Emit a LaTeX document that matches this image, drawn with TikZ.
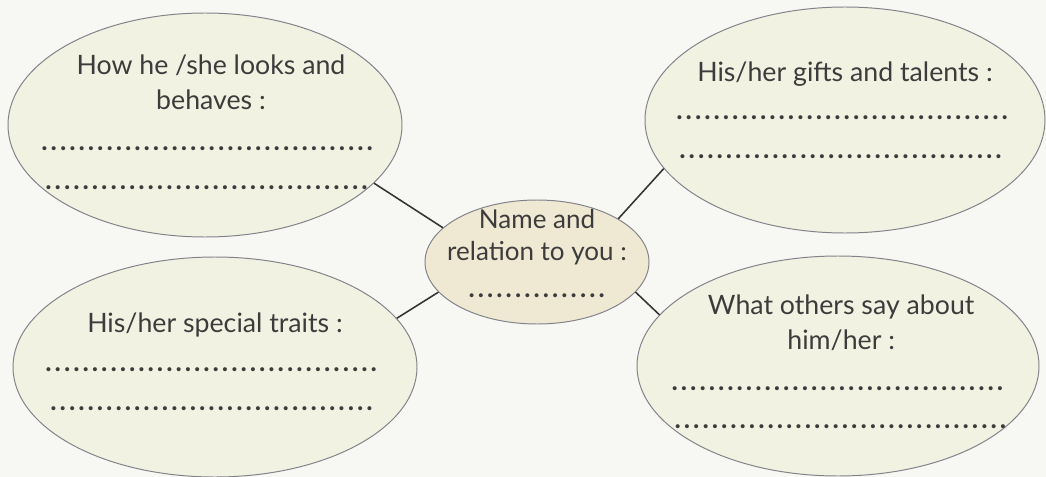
\documentclass[tikz,border=0pt]{standalone}
\usepackage{fontspec}
\setmainfont{Lato}
\usetikzlibrary{shapes.geometric,positioning}
\definecolor{bgpaper}{RGB}{247,247,243}
\definecolor{bubblefill}{RGB}{242,242,227}
\definecolor{namefill}{RGB}{239,233,212}
\definecolor{rimgray}{RGB}{130,130,138}
\definecolor{inkgray}{RGB}{60,60,60}
\newcommand{\dotrow}[1]{\makebox[#1]{\leaders\hbox to 6.6pt{\hss\textbf{.}\hss}\hfill}}

\begin{document}
\begin{tikzpicture}[
    bubble/.style={draw=rimgray, line width=0.7pt, ellipse, fill=bubblefill, inner sep=0pt},
    bubbletext/.style={inner sep=0pt, text=inkgray, align=center, font=\fontsize{19}{25}\selectfont},
    spoke/.style={draw=black!80, line width=1.1pt}
  ]
    \useasboundingbox[fill=bgpaper] (0,0) rectangle (26.15,-11.925);

    % the five bubbles
    \node[bubble, minimum width=9.85cm, minimum height=5.6cm] (looks) at (5.125,-3.125) {};
    \node[bubble, minimum width=10cm, minimum height=5.65cm] (gifts) at (21.125,-3) {};
    \node[bubble, minimum width=10.1cm, minimum height=5.5cm] (traits) at (5.375,-9.175) {};
    \node[bubble, minimum width=10.05cm, minimum height=5.5cm] (others) at (20.95,-9.15) {};
    \node[bubble, fill=namefill, minimum width=5.6cm, minimum height=3.1cm] (name) at (13.425,-6.55) {};

    % what is written in them
    \node[bubbletext, xshift=0.15cm, yshift=0.06cm] (looks-text) at (looks) {How he /she looks and\\ behaves :\\[4.2pt] \dotrow{8.55cm}\\[2.8pt] \dotrow{8.35cm}};
    \node[bubbletext, yshift=0.25cm] (gifts-text) at (gifts) {His/her gifts and talents :\\[2pt] \dotrow{8.5cm}\\[2.7pt] \dotrow{8.35cm}};
    \node[bubbletext, yshift=0.125cm] (traits-text) at (traits) {His/her special traits :\\[2.7pt] \dotrow{8.55cm}\\[2.6pt] \dotrow{8.3cm}};
    \node[bubbletext, xshift=0.08cm, yshift=0.1cm] (others-text) at (others) {What others say about\\ him/her :\\[4.1pt] \dotrow{8.55cm}\\[2pt] \dotrow{8.4cm}};
    \node[bubbletext, yshift=0.21cm, font=\fontsize{18.5}{22.7}\selectfont] (name-text) at (name) {Name and\\ relation to you :\\[3.6pt] \dotrow{3.5cm}};

    \draw[spoke] (looks.-19) -- (name.160);
    \draw[spoke] (gifts.195) -- (name.28);
    \draw[spoke] (traits.15) -- (name.197);
    \draw[spoke] (others.164) -- (name.-17);
\end{tikzpicture}
\end{document}
